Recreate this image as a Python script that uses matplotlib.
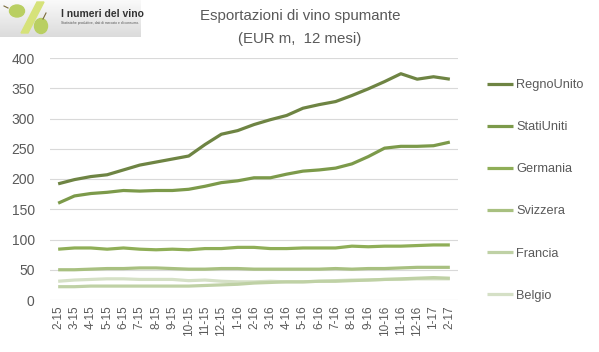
import numpy as np
import matplotlib.pyplot as plt
from matplotlib.patches import Ellipse, Polygon

mesi = ["2-15", "3-15", "4-15", "5-15", "6-15", "7-15", "8-15", "9-15", "10-15",
        "11-15", "12-15", "1-16", "2-16", "3-16", "4-16", "5-16", "6-16", "7-16",
        "8-16", "9-16", "10-16", "11-16", "12-16", "1-17", "2-17"]

regno_unito = [192, 199, 204, 207, 215, 223, 228, 233, 238, 257, 274, 280, 290,
               298, 305, 317, 323, 328, 338, 349, 361, 374, 365, 369, 365]
stati_uniti = [160, 172, 176, 178, 181, 180, 181, 181, 183, 188, 194, 197, 202,
               202, 208, 213, 215, 218, 225, 237, 251, 254, 254, 255, 261]
germania = [84, 86, 86, 84, 86, 84, 83, 84, 83, 85, 85, 87, 87, 85, 85, 86, 86,
            86, 89, 88, 89, 89, 90, 91, 91]
svizzera = [50, 50, 51, 52, 52, 53, 53, 52, 51, 51, 52, 52, 51, 51, 51, 51, 51,
            52, 51, 52, 52, 53, 54, 54, 54]
francia = [22, 22, 23, 23, 23, 23, 23, 23, 23, 24, 25, 26, 28, 29, 30, 30, 31,
           31, 32, 33, 34, 35, 36, 37, 36]
belgio = [31, 33, 34, 35, 35, 34, 34, 34, 32, 33, 31, 30, 30, 31, 30, 30, 31,
          32, 33, 33, 34, 34, 35, 35, 35]

serie = ["RegnoUnito", "StatiUniti", "Germania", "Svizzera", "Francia", "Belgio"]
valori = [regno_unito, stati_uniti, germania, svizzera, francia, belgio]
colori = ["#6e8443", "#7c9a4a", "#8fae57", "#a8c080", "#bfd1a5", "#d5e0c6"]

plt.rcParams['font.family'] = ['Liberation Sans', 'DejaVu Sans']
grigio = "#595959"

fig = plt.figure(figsize=(5.99, 3.52), dpi=100)
W, H = 599, 352
ax = fig.add_axes([50 / W, 1 - 300 / H, 408 / W, 242 / H])

x = np.arange(len(mesi))
# le più chiare prima, così le scure stanno sopra
for nome, v, c in list(zip(serie, valori, colori))[::-1]:
    ax.plot(x, v, color=c, lw=2.3, label=nome, solid_capstyle='butt')

ax.set_xlim(-0.5, len(mesi) - 0.5)
ax.set_ylim(0, 400)
ax.set_yticks(np.arange(0, 401, 50))
ax.set_xticks(x)
ax.set_xticklabels(mesi, rotation=90, fontsize=8.5, color=grigio)
ax.tick_params(axis='y', labelsize=10, labelcolor=grigio, length=0, pad=11)
ax.tick_params(axis='x', length=0, pad=4)
ax.grid(axis='y', color="#d9d9d9", lw=0.8)
ax.set_axisbelow(True)
for s in ax.spines.values():
    s.set_visible(False)

handles, labels = ax.get_legend_handles_labels()
leg = ax.legend(handles[::-1], labels[::-1], loc='upper left',
                bbox_to_anchor=(487 / W, 1 - 79 / H), bbox_transform=fig.transFigure,
                frameon=False, fontsize=9.2, labelspacing=2.36, handlelength=2.05,
                handletextpad=0.25, borderaxespad=0, borderpad=0)
for t in leg.get_texts():
    t.set_color(grigio)

fig.text(300 / W, 1 - 16 / H, "Esportazioni di vino spumante", ha='center',
         va='center', fontsize=10.8, color=grigio)
fig.text(300 / W, 1 - 39 / H, "(EUR m,  12 mesi)", ha='center', va='center',
         fontsize=10.8, color=grigio)

# logo
logo = fig.add_axes([0, 1 - 37 / H, 141 / W, 37 / H])
logo.set_xlim(0, 141)
logo.set_ylim(37, 0)
logo.axis('off')
grad = np.linspace(0.98, 0.86, 50).reshape(-1, 1)
logo.imshow(np.dstack([grad, grad, grad]), extent=(0, 141, 37, 0), aspect='auto')
logo.add_patch(Polygon([[21, 33], [28, 33], [44, 2], [37, 2]], closed=True,
                       color="#d6e27a"))
logo.add_patch(Ellipse((17, 11), 15, 12, color="#b9cf62"))
logo.add_patch(Ellipse((41, 26), 13, 15, color="#b9cf62"))
logo.plot([8, 4], [8, 6], color="#7a6a3a", lw=0.8)
logo.plot([43, 46], [19, 13], color="#7a6a3a", lw=0.8)
logo.text(61, 14, "I numeri del vino", fontsize=7.5, fontweight='bold',
          color="#333333", va='center')
logo.text(61, 23, "Statistiche produttive, dati di mercato e di consumo.",
          fontsize=2.4, color="#555555", va='center')

fig.savefig("out.png", dpi=100)
